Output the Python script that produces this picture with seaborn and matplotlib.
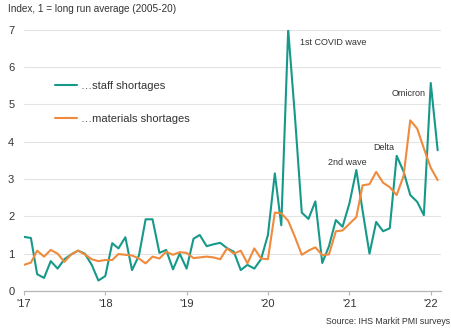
import matplotlib
matplotlib.use("Agg")
import matplotlib.pyplot as plt
import seaborn as sns
import pandas as pd
import numpy as np

# Monthly survey index values, Jan 2017 - Feb 2022 (1 = long run average)
months = pd.date_range("2017-01-01", "2022-02-01", freq="MS")

staff_shortages = [
    1.45, 1.42, 0.45, 0.35, 0.80, 0.60, 0.85, 0.98, 1.08, 1.00, 0.70, 0.28,   # 2017
    0.40, 1.28, 1.14, 1.44, 0.56, 0.95, 1.92, 1.92, 1.02, 1.10, 0.58, 1.00,   # 2018
    0.60, 1.40, 1.50, 1.20, 1.25, 1.29, 1.15, 1.05, 0.56, 0.70, 0.60, 0.85,   # 2019
    1.50, 3.15, 1.76, 7.00, 4.70, 2.10, 1.93, 2.40, 0.75, 1.20, 1.90, 1.72,   # 2020
    2.35, 3.24, 2.15, 1.00, 1.85, 1.60, 1.68, 3.62, 3.20, 2.57, 2.39, 2.03,   # 2021
    5.57, 3.77,                                                               # 2022
]
materials_shortages = [
    0.70, 0.76, 1.08, 0.92, 1.10, 1.00, 0.78, 0.98, 1.08, 0.98, 0.85, 0.80,   # 2017
    0.83, 0.83, 0.99, 0.97, 0.95, 0.87, 0.74, 0.92, 0.87, 1.05, 0.97, 1.04,   # 2018
    1.02, 0.88, 0.90, 0.92, 0.90, 0.85, 1.14, 1.00, 1.08, 0.74, 1.14, 0.87,   # 2019
    0.85, 2.10, 2.08, 1.88, 1.45, 0.97, 1.08, 1.17, 0.96, 0.98, 1.60, 1.62,   # 2020
    1.80, 1.98, 2.83, 2.86, 3.19, 2.90, 2.78, 2.57, 3.08, 4.57, 4.35, 3.82,   # 2021
    3.30, 2.97,                                                               # 2022
]

series_labels = ["\u2026staff shortages", "\u2026materials shortages"]
series_colors = ["#17998a", "#f08a3c"]
year_ticks = ["'17", "'18", "'19", "'20", "'21", "'22"]

annotations = [
    ("1st COVID wave", "2020-05-25", 6.66),
    ("Omicron", "2021-07-10", 5.30),
    ("Delta", "2021-04-16", 3.83),
    ("2nd wave", "2020-09-26", 3.45),
]

df = pd.DataFrame({
    "month": np.concatenate([months, months]),
    "value": staff_shortages + materials_shortages,
    "series": [series_labels[0]] * len(months) + [series_labels[1]] * len(months),
})

sns.set_theme(style="white")
plt.rcParams["font.family"] = ["Liberation Sans", "DejaVu Sans"]

fig = plt.figure(figsize=(4.52, 3.34), dpi=100)
ax = fig.add_axes([24 / 452, 43 / 334, 417 / 452, 261.4 / 334])

sns.lineplot(data=df, x="month", y="value", hue="series",
             palette=dict(zip(series_labels, series_colors)),
             linewidth=1.5, ax=ax, legend=False)

ax.set_ylim(0, 7)
ax.set_xlim(pd.Timestamp("2017-01-01"), pd.Timestamp("2022-02-16"))
ax.set_yticks(range(0, 8))
ax.grid(axis="y", color="#e3e3e3", linewidth=0.8)
ax.set_axisbelow(True)
for side in ["top", "right", "left"]:
    ax.spines[side].set_visible(False)
ax.spines["bottom"].set_color("#b5b5b5")
ax.spines["bottom"].set_linewidth(0.9)

ax.set_xticks([pd.Timestamp(f"20{y[1:]}-01-01") for y in year_ticks])
ax.set_xticklabels(year_ticks)
ax.tick_params(axis="x", length=3, width=0.8, color="#b5b5b5", pad=2.5,
               labelsize=8, labelcolor="#333333", bottom=True)
ax.tick_params(axis="y", length=0, pad=7, labelsize=8, labelcolor="#333333")
ax.set_xlabel("")
ax.set_ylabel("")

for text, when, yv in annotations:
    ax.text(pd.Timestamp(when), yv, text, fontsize=6.5, color="#333333",
            ha="left", va="center")

handles = [plt.Line2D([], [], color=c, linewidth=1.5) for c in series_colors]
fig.legend(handles, series_labels, loc="upper left",
           bbox_to_anchor=(55 / 452, 1 - 81 / 334), frameon=False,
           fontsize=8, handlelength=2.0, handletextpad=0.35,
           labelspacing=2.05, borderpad=0, borderaxespad=0,
           labelcolor="#333333")

fig.text(8 / 452, 1 - 9.5 / 334, "Index, 1 = long run average (2005-20)",
         fontsize=7.2, color="#333333", ha="left", va="center")
fig.text(450 / 452, 1 - 322 / 334, "Source: IHS Markit PMI surveys",
         fontsize=6.3, color="#333333", ha="right", va="center")

fig.savefig("out.png", dpi=100)
